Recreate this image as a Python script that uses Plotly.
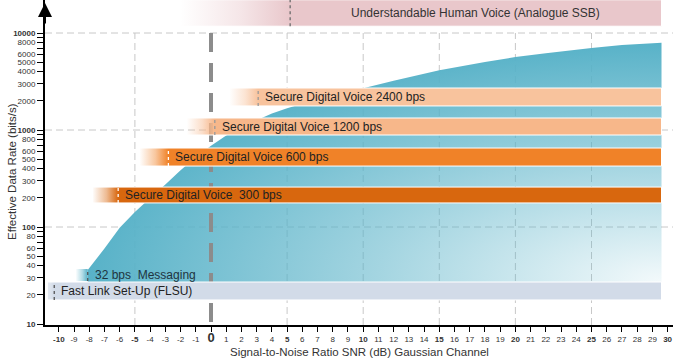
import math
import plotly.graph_objects as go

# ---------------- data ----------------
SNR_CURVE = [-8.1, -7, -6, -5, -4, -3, -2, -1, 0, 1, 2, 3, 4, 5, 6, 8, 10, 12, 15, 18, 20, 22, 25, 27, 29.6]
RATE_CURVE = [36, 60, 98, 143, 199, 274, 384, 525, 690, 880, 1070, 1260, 1480, 1680, 1860, 2240,
              2690, 3210, 4120, 5010, 5660, 6170, 7000, 7500, 7940]
AREA_FLOOR = 27

BAR_LABELS = ["Understandable Human Voice (Analogue SSB)",
              "Secure Digital Voice 2400 bps",
              "Secure Digital Voice 1200 bps",
              "Secure Digital Voice 600 bps",
              "Secure Digital Voice  300 bps",
              "32 bps  Messaging",
              "Fast Link Set-Up (FLSU)"]
BAR_FADE_FROM = [-2.0, 1.2, -1.6, -4.7, -7.8, -8.9, -10.75]
BAR_SOLID_FROM = [5.2, 3.1, 0.25, -2.8, -6.1, -8.1, -10.3]
BAR_END = [29.6, 29.6, 29.6, 29.6, 29.6, -8.1, 29.6]
BAR_LOW = [11750, 1770, 888, 425, 177, 27.7, 17.7]
BAR_HIGH = [22000, 2710, 1330, 652, 258, 36.9, 27.1]

X_TICKS = list(range(-10, 31))
BOLD_X = [-10, -5, 5, 10, 15, 20, 25, 30]
X_GRID = [-5, 5, 10, 15, 20, 25]
Y_GRID = [100, 1000, 10000]
Y_TICKS = [m * 10 ** e for e in (1, 2, 3) for m in range(1, 10)] + [10000]
Y_LABELLED = [10, 20, 30, 40, 50, 60, 80, 100, 200, 300, 400, 500, 600, 800,
              1000, 2000, 3000, 4000, 5000, 6000, 8000, 10000]
BOLD_Y = [10, 100, 1000, 10000]

X_TITLE = "Signal-to-Noise Ratio SNR (dB) Gaussian Channel"
Y_TITLE = "Effective Data Rate (bits/s)"

# ---------------- style ----------------
W, H = 673, 360
ML, MR, MT, MB = 45, 0, 0, 35
X0, X1 = -10.907, 30.355
Y0, Y1 = 0.9897, 4.3402
FONT = "Arial, Liberation Sans, sans-serif"
TEAL = (88, 178, 200)
BAR_COLORS = [(233, 199, 203), (248, 195, 157), (247, 183, 138), (240, 130, 40),
              (216, 103, 14), TEAL, (210, 219, 232)]
BAR_FADE_ALPHA = [0.0, 0.0, 0.0, 0.0, 0.0, 0.0, 0.6]
MARK_COLORS = ["#6b6b6b", "#9a9a9a", "#9a9a9a", "#ffffff", "#ffffff", "#555555", "#555555"]
BAR_OUTLINE = [True, True, True, True, True, False, True]
TEXT_COLORS = ["#333333", "#222222", "#222222", "#222222", "#222222", "#1f3440", "#222222"]


def rgba(c, a):
    return f"rgba({c[0]},{c[1]},{c[2]},{a})"


fig = go.Figure()

# grid lines (dashed)
gx, gy = [], []
for g in X_GRID:
    gx += [g, g, None]
    gy += [10 ** Y0, max(Y_GRID), None]
for g in Y_GRID:
    gx += [X0, X1, None]
    gy += [g, g, None]
fig.add_trace(go.Scatter(x=gx, y=gy, mode="lines", hoverinfo="skip",
                         line=dict(color="#c8c8c8", width=1, dash="7px,4px")))

# capacity area with radial fade towards bottom-right corner
x_end, x_start = SNR_CURVE[-1], SNR_CURVE[0]
far_x = 2 * x_end - x_start
ltop = math.log10(max(RATE_CURVE))
lfloor = math.log10(AREA_FLOOR)
low_y = 10 ** (2 * lfloor - ltop)
ax_ = SNR_CURVE + [x_end, far_x, x_end, x_start, x_start, x_start]
ay_ = RATE_CURVE + [AREA_FLOOR, AREA_FLOOR, AREA_FLOOR, AREA_FLOOR, low_y, AREA_FLOOR]
fig.add_trace(go.Scatter(
    x=ax_, y=ay_, mode="lines", fill="toself", hoverinfo="skip",
    line=dict(width=0, simplify=False),
    fillgradient=dict(type="radial",
                      colorscale=[[0, rgba(TEAL, 0.07)], [0.5, rgba(TEAL, 0.55)], [1, rgba(TEAL, 1)]]),
))

# thick zero line
fig.add_trace(go.Scatter(x=[0, 0], y=[max(Y_GRID), 10 ** Y0], mode="lines", hoverinfo="skip",
                         line=dict(color="#8c8c8c", width=4, dash="19px,11px")))

# bars
for i, lab in enumerate(BAR_LABELS):
    f0, s0, e0 = BAR_FADE_FROM[i], BAR_SOLID_FROM[i], BAR_END[i]
    lo, hi = BAR_LOW[i], BAR_HIGH[i]
    c = BAR_COLORS[i]
    frac = (s0 - f0) / (e0 - f0)
    cs = [[0, rgba(c, BAR_FADE_ALPHA[i])], [frac * 0.55, rgba(c, 0.45 + 0.55 * BAR_FADE_ALPHA[i])],
          [frac, rgba(c, 1)]]
    if frac < 1:
        cs.append([1, rgba(c, 1)])
    fig.add_trace(go.Scatter(
        x=[f0, e0, e0, f0, f0], y=[lo, lo, hi, hi, lo], mode="lines", fill="toself",
        hoverinfo="skip",
        line=dict(color="white" if BAR_OUTLINE[i] else "rgba(0,0,0,0)", width=1),
        fillgradient=dict(type="horizontal", colorscale=cs),
    ))
    fig.add_trace(go.Scatter(x=[s0, s0], y=[lo, min(hi, 10 ** Y1)], mode="lines", hoverinfo="skip",
                             line=dict(color=MARK_COLORS[i], width=1.3, dash="dot")))

annotations = []
for i, lab in enumerate(BAR_LABELS):
    ymid = (math.log10(BAR_LOW[i]) + math.log10(min(BAR_HIGH[i], 10 ** Y1))) / 2
    if i == 0:
        annotations.append(dict(x=(BAR_SOLID_FROM[i] + BAR_END[i]) / 2, y=ymid, xref="x", yref="y",
                                text=lab, showarrow=False, xanchor="center", yanchor="middle",
                                font=dict(family=FONT, size=12, color=TEXT_COLORS[i])))
    else:
        annotations.append(dict(x=BAR_SOLID_FROM[i], y=ymid, xref="x", yref="y", xshift=5,
                                text=lab, showarrow=False, xanchor="left", yanchor="middle",
                                font=dict(family=FONT, size=12, color=TEXT_COLORS[i])))

pw = W - ML - MR
ph = H - MT - MB
annotations.append(dict(x=(359 - ML) / pw, y=-(352 - (H - MB)) / ph, xref="paper", yref="paper",
                        text=X_TITLE, showarrow=False, xanchor="center", yanchor="middle",
                        font=dict(family=FONT, size=11.5, color="#333333")))
annotations.append(dict(x=(12 - ML) / pw, y=((H - MB) - 172) / ph, xref="paper", yref="paper",
                        text=Y_TITLE, showarrow=False, textangle=-90, xanchor="center", yanchor="middle",
                        font=dict(family=FONT, size=11.5, color="#333333")))
# y-axis arrow head
annotations.append(dict(x=0, y=1 - 3 / ph, xref="paper", yref="paper", text="", showarrow=True,
                        ax=0, ay=22, arrowhead=2, arrowsize=1.4, arrowwidth=2, arrowcolor="black",
                        standoff=0))


def xlab(v):
    if v == 0:
        return "<span style='font-size:13px'><b>0</b></span>"
    if v in BOLD_X:
        return f"<b>{v}</b>"
    return str(v)


def ylab(v):
    if v not in Y_LABELLED:
        return ""
    if v in BOLD_Y:
        return f"<b>{v}</b>"
    return str(v)


fig.update_layout(
    width=W, height=H, margin=dict(l=ML, r=MR, t=MT, b=MB),
    paper_bgcolor="white", plot_bgcolor="white", showlegend=False,
    font=dict(family=FONT, color="#222222"),
    annotations=annotations,
    xaxis=dict(range=[X0, X1], tickvals=X_TICKS, ticktext=[xlab(v) for v in X_TICKS],
               ticks="outside", ticklen=5, tickwidth=1, tickcolor="black",
               showline=True, linecolor="black", linewidth=2, showgrid=False, zeroline=False,
               tickfont=dict(family=FONT, size=8, color="#333333"), tickangle=0, automargin=False),
    yaxis=dict(type="log", range=[Y0, Y1], tickvals=Y_TICKS, ticktext=[ylab(v) for v in Y_TICKS],
               ticks="outside", ticklen=6, tickwidth=1, tickcolor="black",
               showline=True, linecolor="black", linewidth=2, showgrid=False, zeroline=False,
               tickfont=dict(family=FONT, size=8, color="#333333"), automargin=False),
)

fig.write_html("out.html", config={"displayModeBar": False},
               post_script="document.body.style.margin='0px';")
